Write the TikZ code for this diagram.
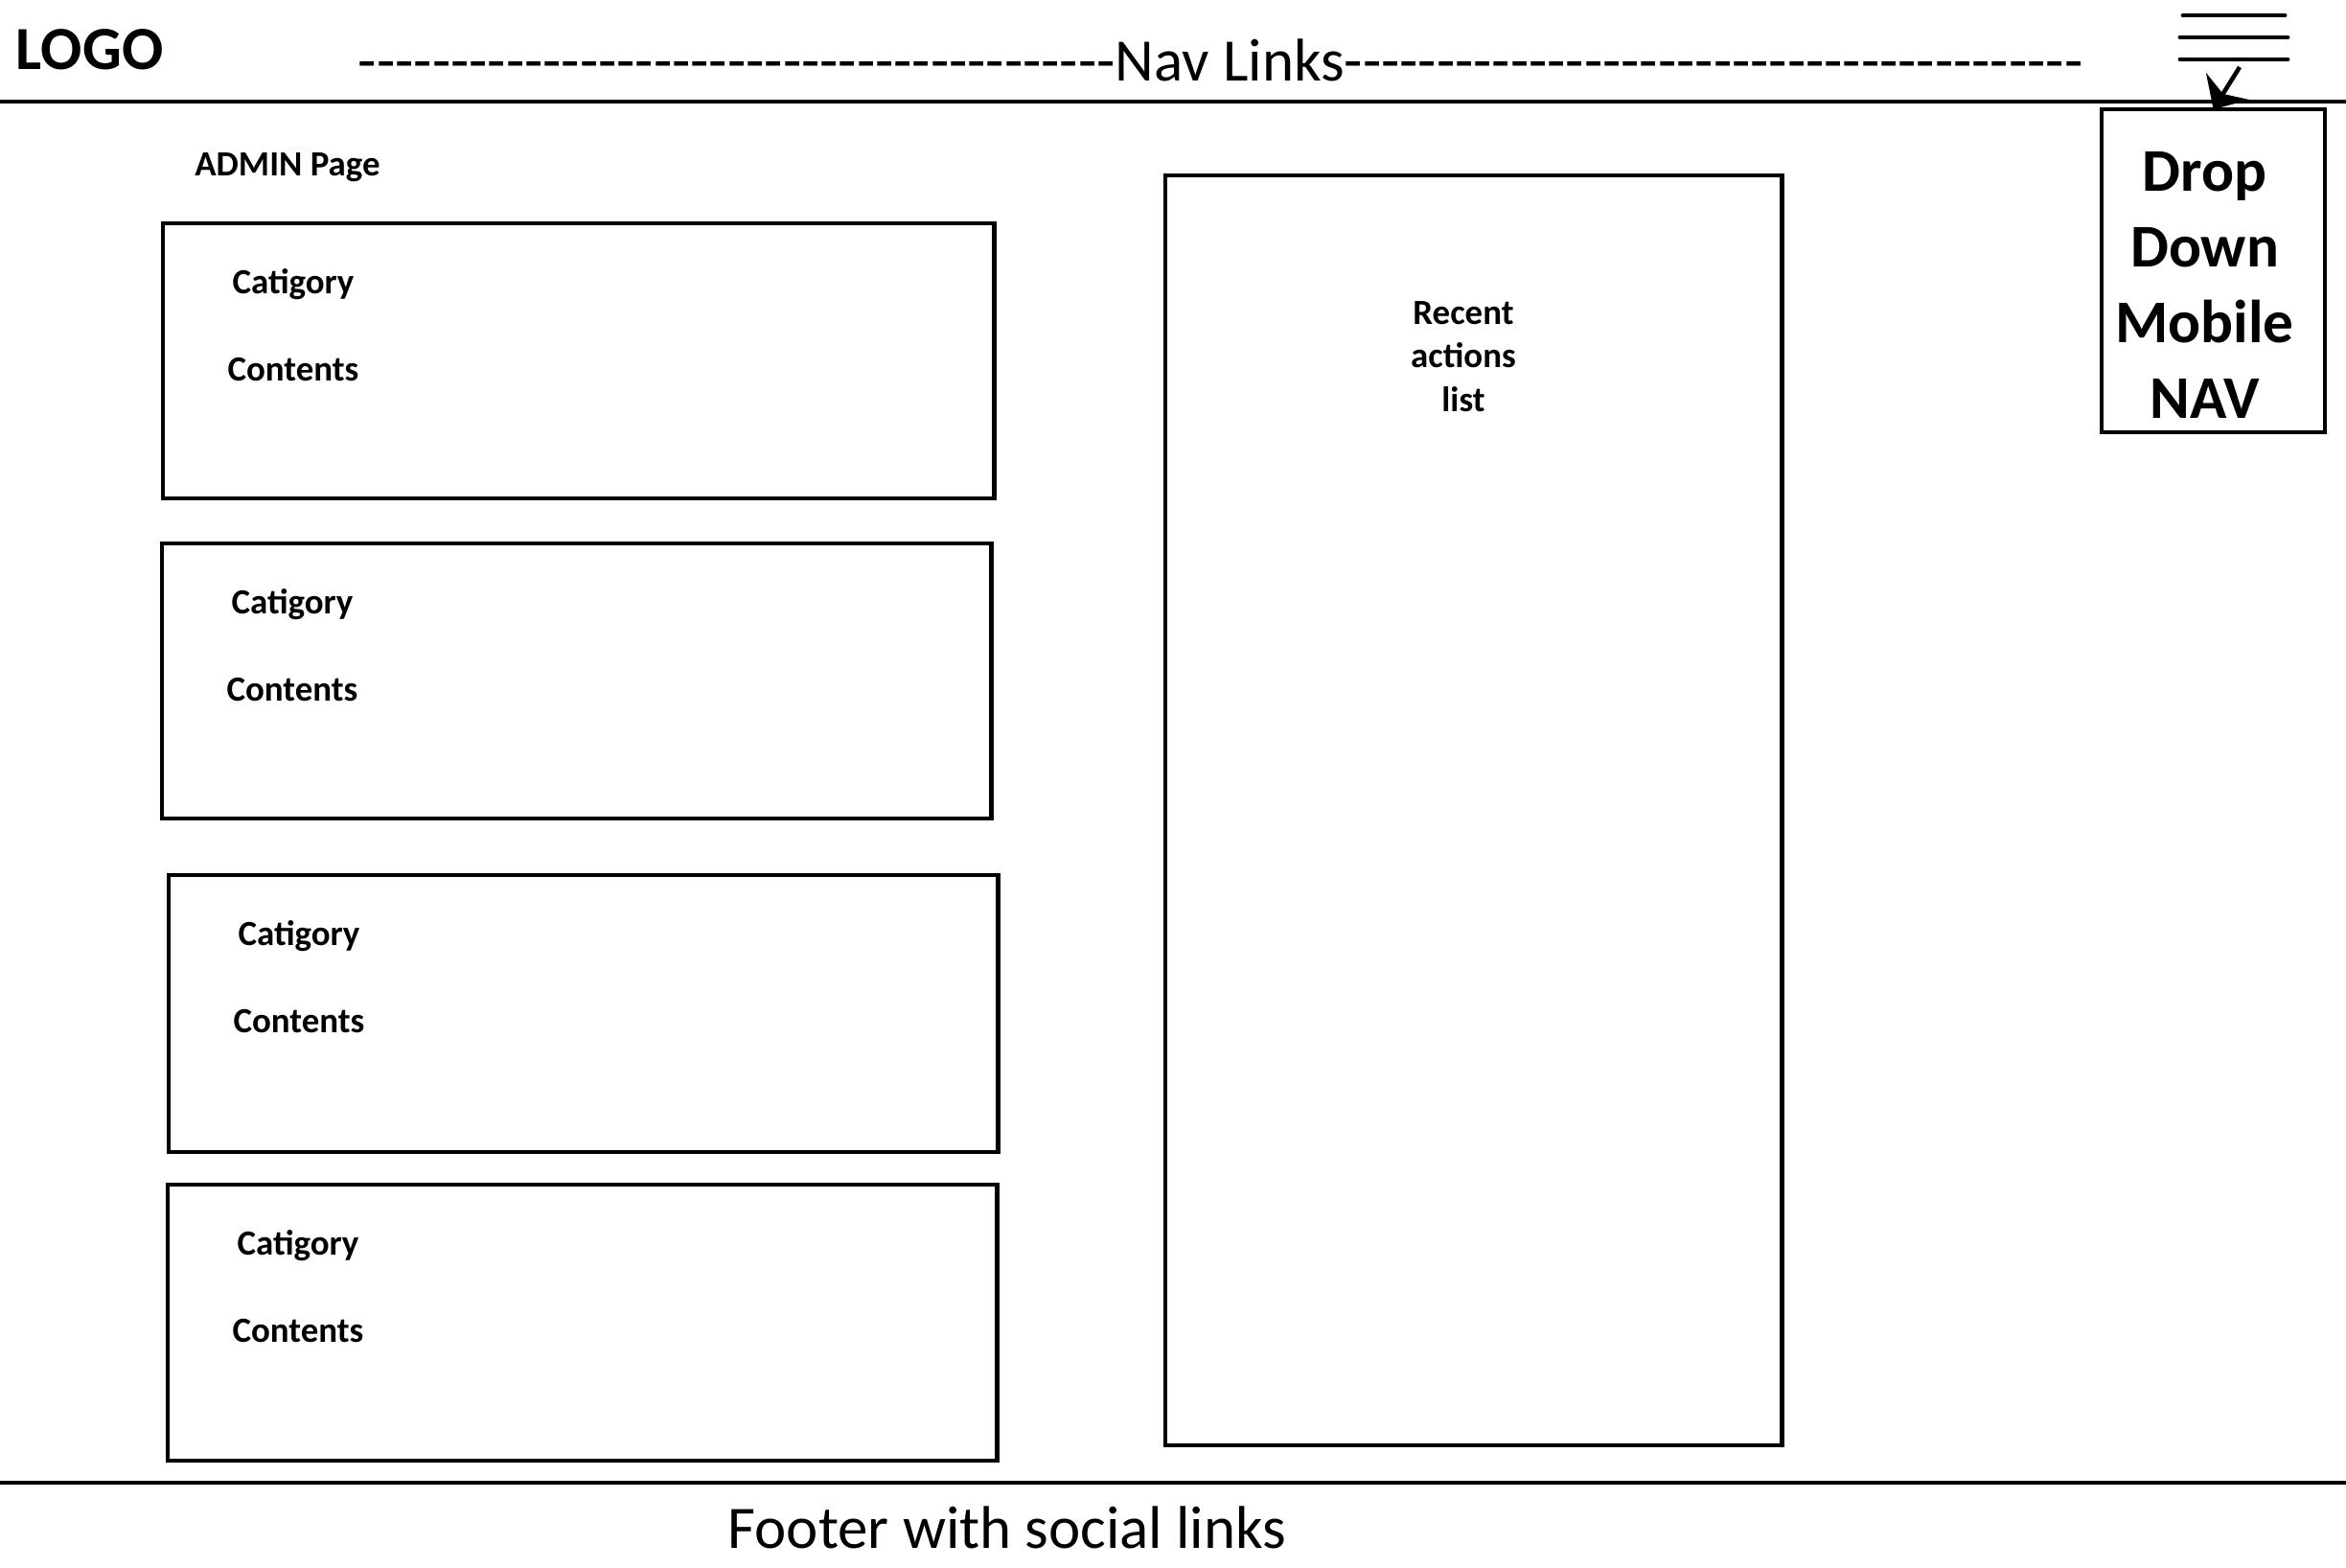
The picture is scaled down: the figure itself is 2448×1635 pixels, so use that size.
\documentclass[tikz,border=0pt]{standalone}
\usepackage{fontspec}
\setmainfont{Carlito}[Ligatures=TeXOff]
\usetikzlibrary{calc,arrows.meta}

\newcommand\navdashes[1]{\foreach \k in {1,...,#1}{-}}

\begin{document}
\begin{tikzpicture}[x=0.01cm,y=-0.01cm,
	every node/.style={inner sep=0pt,outer sep=0pt},
	box/.style={draw,line width=1.2pt,anchor=north west},
	lbl/.style={anchor=base,font=\fontsize{10.5}{12.9}\selectfont\bfseries},
	big/.style={font=\fontsize{17.9}{21}\selectfont},
	rule/.style={line width=1.4pt}]
\useasboundingbox (0,0) rectangle (2448,1635);

% header
\draw[rule] (0,106) -- (2448,106);
\node[anchor=base west,font=\fontsize{18.2}{21}\selectfont\bfseries] (logo) at (17,72) {LOGO};
\node[big,anchor=base] (nav) at (1274,84) {\navdashes{41}Nav Links\navdashes{40}};

% mobile menu
\draw[rule,line cap=round] (2278,16) -- (2384,16);
\draw[rule,line cap=round] (2275,39) -- (2387,39);
\draw[rule,line cap=round] (2275,62) -- (2387,62);
\coordinate (menu) at (2337,70);
\node[box,minimum width=2.33cm,minimum height=3.37cm] (drop) at (2193,114) {};
\node[align=center,font=\fontsize{18}{22.4}\selectfont\bfseries] (dropTxt) at ($(drop.center)+(-9,15)$) {Drop\\Down\\Mobile\\NAV};
\draw[line width=1.3pt,-{Stealth[length=8pt,width=15pt]}] (menu) -- (drop.north);

\node[lbl] (admin) at (300,183) {ADMIN Page};

% category boxes
\node[box,minimum width=8.67cm,minimum height=2.87cm] (cA) at (170,233) {};
\node[box,minimum width=8.65cm,minimum height=2.87cm] (cB) at (169,567) {};
\node[box,minimum width=8.65cm,minimum height=2.89cm] (cC) at (176,913) {};
\node[box,minimum width=8.65cm,minimum height=2.88cm] (cD) at (175,1236) {};

\node[lbl] (catA) at ($(cA.north west)+(136,73)$) {Catigory};
\node[lbl] (conA) at ($(cA.north west)+(136,164)$) {Contents};
\node[lbl] (catB) at ($(cB.north west)+(136,73)$) {Catigory};
\node[lbl] (conB) at ($(cB.north west)+(136,164)$) {Contents};
\node[lbl] (catC) at ($(cC.north west)+(136,73)$) {Catigory};
\node[lbl] (conC) at ($(cC.north west)+(136,164)$) {Contents};
\node[lbl] (catD) at ($(cD.north west)+(136,73)$) {Catigory};
\node[lbl] (conD) at ($(cD.north west)+(136,164)$) {Contents};

% side list
\node[box,minimum width=6.43cm,minimum height=13.24cm] (recent) at (1216,183) {};
\node[align=center,font=\fontsize{10.5}{12.9}\selectfont\bfseries] (recentTxt) at ($(recent.north west)+(311,189)$) {Recent\\actions\\list};

% footer
\draw[rule] (0,1547) -- (2448,1547);
\node[big,anchor=base] (footer) at (1051,1615) {Footer with social links};
\end{tikzpicture}
\end{document}
